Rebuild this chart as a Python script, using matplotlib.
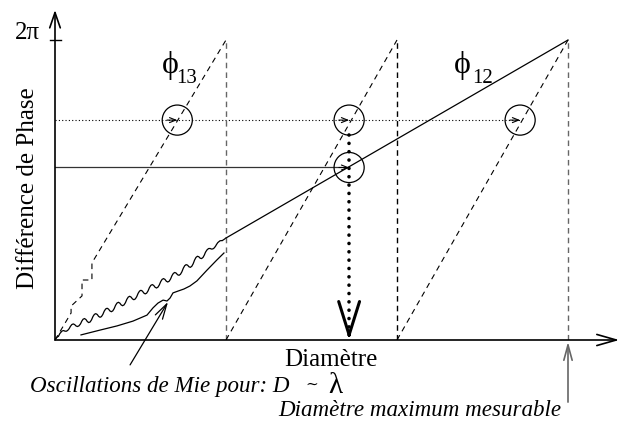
import matplotlib
matplotlib.use("Agg")
import matplotlib.pyplot as plt
from matplotlib.path import Path
from matplotlib.patches import PathPatch

# ---- values (D in units of the phi13 wrap period, phase in units of 2*pi) ----
wrap_D = [1.0, 2.0, 3.0]                     # diameters where phi13 wraps / 2*pi reached
phi13_first_D = [0.0, 0.094, 0.094, 0.158, 0.158, 0.216, 0.216, 1.0]
phi13_first_ph = [0.0, 0.090, 0.113, 0.147, 0.200, 0.200, 0.257, 1.0]
phi13_wraps = [(1.0, 2.0), (2.0, 3.0)]       # later saw-tooth branches, 0 -> 2*pi

# phi12 in the Mie regime: quadratic Bezier vertices (control / on-curve pairs)
mie12_D = [0.000,
           0.008, 0.020, 0.0365, 0.053, 0.0695, 0.086, 0.1025, 0.119, 0.1355, 0.152,
           0.1685, 0.185, 0.2015, 0.218, 0.2345, 0.251, 0.2675, 0.284, 0.3005, 0.317,
           0.3335, 0.350, 0.3665, 0.383, 0.3995, 0.416, 0.4325, 0.449, 0.4655, 0.482,
           0.4985, 0.515, 0.5315, 0.548, 0.5645, 0.581, 0.5975, 0.614, 0.6305, 0.647,
           0.6635, 0.680, 0.6965, 0.713, 0.7295, 0.746, 0.7625, 0.779, 0.7955, 0.812,
           0.8285, 0.845, 0.8615, 0.878, 0.8945, 0.911, 0.9275, 0.944, 0.9605, 0.977,
           0.9885, 1.000]
mie12_ph = [0.000,
            0.010, 0.012, 0.034, 0.031, 0.024, 0.041, 0.061, 0.049, 0.038, 0.057,
            0.081, 0.065, 0.048, 0.073, 0.097, 0.082, 0.066, 0.091, 0.115, 0.100,
            0.085, 0.110, 0.135, 0.120, 0.105, 0.130, 0.155, 0.140, 0.125, 0.150,
            0.175, 0.160, 0.144, 0.169, 0.194, 0.179, 0.164, 0.189, 0.214, 0.199,
            0.184, 0.209, 0.234, 0.220, 0.207, 0.233, 0.260, 0.247, 0.233, 0.260,
            0.288, 0.275, 0.263, 0.290, 0.310, 0.304, 0.299, 0.318, 0.334, 0.331,
            0.335, 0.340]
# phi12 beyond the Mie regime: straight up to 2*pi
phi12_lin_D = [1.0, 3.0]
phi12_lin_ph = [0.340, 1.0]

mie_D = [0.152, 0.263, 0.363, 0.456, 0.538, 0.573, 0.602, 0.632, 0.655, 0.673,
         0.690, 0.719, 0.754, 0.789, 0.830, 0.889, 0.947, 0.988]
mie_ph = [0.017, 0.033, 0.047, 0.063, 0.083, 0.107, 0.123, 0.133, 0.130, 0.140,
          0.157, 0.163, 0.170, 0.180, 0.197, 0.233, 0.267, 0.290]

phi13_meas = 0.733          # measured phi13 (fraction of 2*pi)
phi12_meas = 0.575          # measured phi12
D_candidates = [0.715, 1.72, 2.72]   # diameters compatible with phi13
D_solution = 1.72

mie_arrow_tail = (0.439, -0.083)
mie_arrow_tip = (0.661, 0.127)
max_arrow_tail = -0.207

# ---- figure / axes geometry ----
W, H = 621, 423
fig = plt.figure(figsize=(W / 100, H / 100), dpi=100)
ox, oy = 55, 340          # origin in pixels
sx, sy = 171, 300         # pixels per unit
xmax, ymax = 3.3, 1.1
ax = fig.add_axes([ox / W, (H - oy) / H, xmax * sx / W, ymax * sy / H])
ax.set_xlim(0, xmax)
ax.set_ylim(0, ymax)
ax.axis("off")

SERIF = ["Liberation Serif", "DejaVu Serif"]


def arrow(tail, tip, style, lw=1.0, color="black"):
    ax.annotate("", xy=tip, xytext=tail, xycoords="data", annotation_clip=False,
                arrowprops=dict(arrowstyle=style, lw=lw, color=color,
                                shrinkA=0, shrinkB=0))


# axes with open arrow heads
arrow((0, 0), (xmax, 0), "->,head_length=1.4,head_width=0.4", lw=1.2)
arrow((0, 0), (0, ymax), "->,head_length=1.1,head_width=0.38", lw=1.2)
# tick at 2*pi
ax.plot([-0.03, 0.035], [1.0, 1.0], color="black", lw=1.0, clip_on=False)

# wrap positions (vertical dashed)
for i, d in enumerate(wrap_D):
    ax.plot([d, d], [0, 1.0], color="#666666" if i != 1 else "black", lw=1.0,
            ls=(0, (4, 3)))

# phi13 saw-tooth
dash13 = dict(color="black", lw=0.8, ls=(0, (5, 4)))
ax.plot(phi13_first_D, phi13_first_ph, **dash13)
for d0, d1 in phi13_wraps:
    ax.plot([d0, d1], [0, 1.0], **dash13)

# phi12 with Mie oscillations, then linear
codes = [Path.MOVETO] + [Path.CURVE3] * (len(mie12_D) - 1)
ax.add_patch(PathPatch(Path(list(zip(mie12_D, mie12_ph)), codes),
                       facecolor="none", edgecolor="black", lw=0.9))
ax.plot(phi12_lin_D, phi12_lin_ph, color="black", lw=0.9)
# smooth lower curve
ax.plot(mie_D, mie_ph, color="black", lw=0.9)

# measured phi13: dotted level with arrows to each candidate
ax.plot([0, D_candidates[-1]], [phi13_meas, phi13_meas], color="black", lw=0.8,
        ls=(0, (1, 2)))
for d in D_candidates:
    arrow((d - 0.06, phi13_meas), (d, phi13_meas),
          "->,head_length=0.45,head_width=0.18", lw=0.8)
# measured phi12: solid level
ax.plot([0, D_solution - 0.05], [phi12_meas, phi12_meas], color="#333333", lw=0.9)
arrow((D_solution - 0.06, phi12_meas), (D_solution, phi12_meas),
      "->,head_length=0.45,head_width=0.18", lw=0.8)

# circles at the intersections
ax.scatter(D_candidates, [phi13_meas] * len(D_candidates), s=470,
           facecolors="none", edgecolors="black", linewidths=0.9, zorder=5)
ax.scatter([D_solution], [phi12_meas], s=470, facecolors="none",
           edgecolors="black", linewidths=0.9, zorder=5)

# selected diameter: thick dotted drop with big open head
ax.plot([D_solution, D_solution], [phi13_meas - 0.05, 0.03], color="black",
        lw=2.6, ls=(0, (0.01, 2.3)), dash_capstyle="round")
arrow((D_solution, 0.03), (D_solution, 0.0),
      "->,head_length=2.4,head_width=0.75", lw=2.2)

# annotation arrows
arrow(mie_arrow_tail, mie_arrow_tip, "->,head_length=1.1,head_width=0.3", lw=0.9)
arrow((wrap_D[-1], max_arrow_tail), (wrap_D[-1], -0.006),
      "->,head_length=1.1,head_width=0.3", lw=1.2, color="#666666")


# ---- texts ----
def ftext(px, py, s, **kw):
    kw.setdefault("family", SERIF)
    fig.text(px / W, 1 - py / H, s, **kw)


ftext(40, 33, "2π", ha="right", va="center", size=18)
ftext(170, 65, "ϕ", ha="center", va="center", size=23)
ftext(176, 83, "13", ha="left", va="baseline", size=15)
ftext(462, 66, "ϕ", ha="center", va="center", size=23)
ftext(472, 83, "12", ha="left", va="baseline", size=15)
ftext(28, 188, "Différence de Phase", ha="center", va="center", size=18,
      rotation=90)
ftext(331, 366, "Diamètre", ha="center", va="baseline", size=18)
ftext(30, 392, "Oscillations de Mie pour: D", ha="left", va="baseline",
      size=16.6, style="italic")
ftext(312, 389, "∼", ha="center", va="baseline", size=11)
ftext(335, 393, "λ", ha="center", va="baseline", size=21)
ftext(278, 416, "Diamètre maximum mesurable", ha="left", va="baseline",
      size=16.6, style="italic")

fig.savefig("out.png", dpi=100)
